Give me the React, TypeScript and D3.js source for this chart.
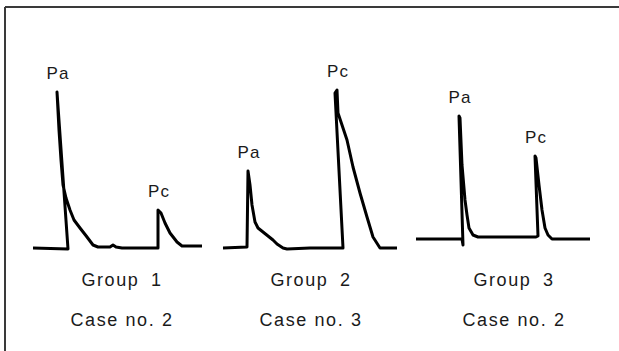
import React from 'react';
import * as d3 from 'd3';

// pressure traces: t = time (arbitrary units), v = amplitude above the baseline
const group1T = [0, 35, 24, 26, 28, 30, 33, 37, 41, 47, 54, 60, 65, 77, 80, 83, 89, 125, 125, 128, 132, 137, 144, 149, 154, 169];
const group1V = [0, -1, 156, 118, 88, 63, 50, 38, 28, 20, 11, 3, 1, 1, 3, 1, 0, 0, 38, 35, 25, 15, 6, 2, 2, 2];

const group2T = [0, 24, 25, 27, 29, 32, 35, 40, 45, 50, 54, 60, 64, 87, 120, 112, 114, 115, 124, 130, 137, 144, 150, 157, 174];
const group2V = [0, 1, 77, 63, 43, 26, 20, 16, 12, 8, 4, 0, -1, 0, 0, 155, 158, 135, 108, 81, 55, 31, 11, 0, 0];

const group3T = [0, 46, 47, 43, 44, 46, 49, 51, 53, 57, 62, 120, 122, 119, 120, 123, 126, 129, 132, 136, 174];
const group3V = [0, 0, -6, 123, 121, 74, 39, 24, 11, 4, 2, 2, 3, 83, 81, 54, 29, 11, 4, 0, 0];

const groupNames = ['Group 1', 'Group 2', 'Group 3'];
const caseNames = ['Case no. 2', 'Case no. 3', 'Case no. 2'];
const peakNames = ['Pa', 'Pc'];
// time of the Pa and Pc peaks in each group
const peakTimes = [[24, 125], [25, 114], [43, 119]];

const traces = [
  { t: group1T, v: group1V },
  { t: group2T, v: group2V },
  { t: group3T, v: group3V },
];

// where each panel sits on the page
const panels = [
  { left: 33, base: 248, textT: 89 },
  { left: 223, base: 248, textT: 88 },
  { left: 416, base: 239, textT: 98 },
];

const W = 619, H = 351;
const font = '"Liberation Sans", Arial, sans-serif';

export default function App() {
  return (
    <svg width={W} height={H} style={{ position: 'fixed', left: 0, top: 0, background: '#fff' }}>
      <line x1={5} x2={W} y1={7} y2={7} stroke="#3a3a3a" strokeWidth={2} />
      <line x1={5} x2={5} y1={7} y2={H} stroke="#3a3a3a" strokeWidth={2} />
      {traces.map((tr, gi) => {
        const p = panels[gi];
        const x = d3.scaleLinear().domain([0, 170]).range([p.left, p.left + 170]);
        const y = d3.scaleLinear().domain([0, 160]).range([p.base, p.base - 160]);
        const pts = tr.t.map((t, i) => [t, tr.v[i]] as [number, number]);
        const line = d3.line<[number, number]>().x(d => x(d[0])).y(d => y(d[1]));
        return (
          <g key={gi}>
            <path d={line(pts) || ''} fill="none" stroke="#000" strokeWidth={3} strokeLinejoin="round" />
            {peakTimes[gi].map((pt, k) => {
              // highest point at that time is the peak
              const cand = pts.filter(d => Math.abs(d[0] - pt) <= 1);
              const peak = cand.reduce((a, b) => (b[1] > a[1] ? b : a), cand[0]);
              return (
                <text key={k} x={x(peak[0]) + 1} y={y(peak[1]) - 13} textAnchor="middle"
                  fontFamily={font} fontSize={17} letterSpacing={1} fill="#1a1a1a">
                  {peakNames[k]}
                </text>
              );
            })}
            <text x={x(p.textT)} y={286} textAnchor="middle" fontFamily={font} fontSize={18}
              letterSpacing={1.6} wordSpacing={5} fill="#1a1a1a">
              {groupNames[gi]}
            </text>
            <text x={x(p.textT)} y={326} textAnchor="middle" fontFamily={font} fontSize={18}
              letterSpacing={1.6} fill="#1a1a1a">
              {caseNames[gi]}
            </text>
          </g>
        );
      })}
    </svg>
  );
}
